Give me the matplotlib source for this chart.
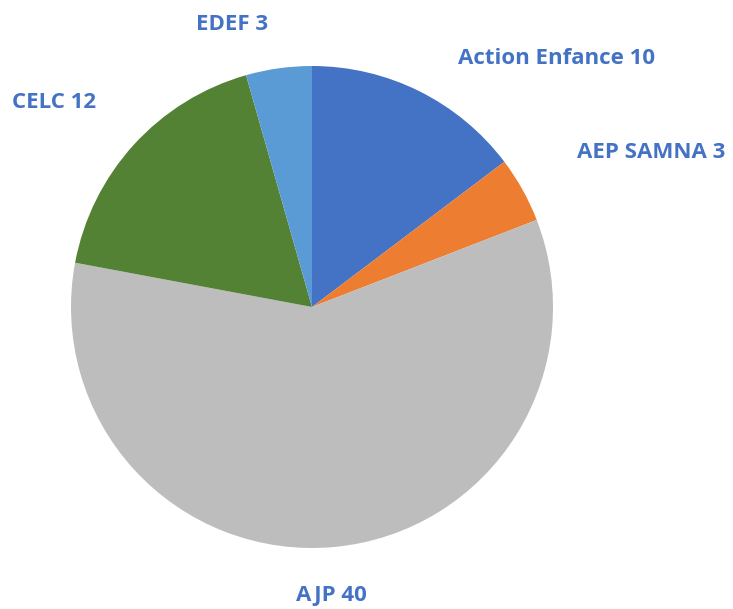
import matplotlib.pyplot as plt

labels = ['Action Enfance', 'AEP SAMNA', 'AJP', 'CELC', 'EDEF']
values = [10, 3, 40, 12, 3]
colors = ['#4472C4', '#ED7D31', '#BDBDBD', '#548235', '#5B9BD5']

# label centres in pixels (x, y from top)
label_pos = [(556, 58), (651, 153), (331, 596), (54, 103), (232, 25)]

W, H = 733, 609
fig = plt.figure(figsize=(W / 100, H / 100), dpi=100)

cx, cy, r = 312, 307, 241
ax = fig.add_axes([(cx - r) / W, (H - cy - r) / H, 2 * r / W, 2 * r / H])
ax.pie(values, colors=colors, startangle=90, counterclock=False,
       radius=1, wedgeprops={'linewidth': 0})
ax.set_xlim(-1, 1)
ax.set_ylim(-1, 1)
ax.set_aspect('equal')
ax.axis('off')

for lab, v, (px, py) in zip(labels, values, label_pos):
    fig.text(px / W, 1 - py / H, f'{lab} {v}', color='#4472C4',
             fontsize=16, fontweight='bold', family=['Open Sans', 'DejaVu Sans'],
             ha='center', va='center')

fig.savefig('out.png', dpi=100)
